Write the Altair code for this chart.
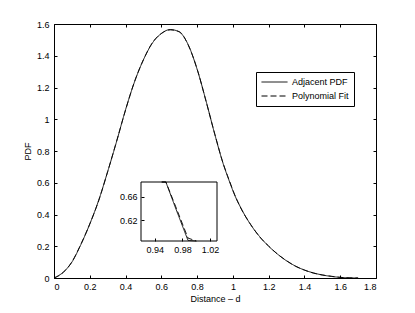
import altair as alt
import pandas as pd

# ---- data ----
distance = [0, 0.05, 0.1, 0.15, 0.2, 0.25, 0.3, 0.35, 0.4, 0.45, 0.5, 0.55, 0.6, 0.65,
            0.7, 0.75, 0.8, 0.85, 0.9, 0.95, 0.956, 0.97, 0.988, 1.0, 1.05, 1.1, 1.15,
            1.2, 1.25, 1.3, 1.35, 1.4, 1.45, 1.5, 1.55, 1.6, 1.65, 1.7]
adjacent_pdf = [0, 0.035, 0.10, 0.21, 0.34, 0.49, 0.67, 0.86, 1.06, 1.235, 1.375, 1.48, 1.54, 1.565,
                1.55, 1.47, 1.315, 1.115, 0.90, 0.705, 0.685, 0.641, 0.586, 0.55, 0.43, 0.335, 0.26,
                0.2, 0.15, 0.108, 0.075, 0.05, 0.032, 0.019, 0.01, 0.004, 0.001, 0.0]
poly_fit = [0, 0.033, 0.102, 0.212, 0.34, 0.488, 0.67, 0.862, 1.058, 1.237, 1.375, 1.482, 1.54, 1.563,
            1.552, 1.468, 1.317, 1.113, 0.902, 0.707, 0.688, 0.644, 0.59, 0.553, 0.428, 0.336, 0.259,
            0.201, 0.15, 0.109, 0.074, 0.05, 0.031, 0.019, 0.011, 0.004, 0.001, 0.0]
series_names = ["Adjacent PDF", "Polynomial Fit"]

x_ticks = [0, 0.2, 0.4, 0.6, 0.8, 1.0, 1.2, 1.4, 1.6, 1.8]
y_ticks = [0, 0.2, 0.4, 0.6, 0.8, 1.0, 1.2, 1.4, 1.6]
x_domain = [0, 1.8]
y_domain = [0, 1.6]

inset_x_domain = [0.92, 1.03]
inset_y_domain = [0.585, 0.685]
inset_x_ticks = [0.94, 0.98, 1.02]
inset_y_ticks = [0.62, 0.66]

# ---- tables ----
df = pd.concat([
    pd.DataFrame({"d": distance, "p": adjacent_pdf, "series": series_names[0]}),
    pd.DataFrame({"d": distance, "p": poly_fit, "series": series_names[1]}),
], ignore_index=True)
box_df = pd.DataFrame({"x0": [inset_x_domain[0]], "x1": [inset_x_domain[1]],
                       "y0": [inset_y_domain[0]], "y1": [inset_y_domain[1]]})

# ---- layout / style ----
W, H = 322, 254
FONT = "Liberation Sans"
FS = 9
TICK = {"expr": "-3"}
inset_x_range = [87, 163]
inset_y_range = [217, 158]

common_axis = dict(domainColor="black", tickColor="black", labelColor="black",
                   titleColor="black", labelFont=FONT, titleFont=FONT,
                   labelFontSize=FS, titleFontSize=FS, titleFontWeight="normal",
                   grid=False, tickSize=TICK, domainWidth=1, tickWidth=1)

dash = alt.StrokeDash("series:N",
                      scale=alt.Scale(domain=series_names, range=[[1, 0], [6, 3]]),
                      legend=alt.Legend(title=None, orient="none", legendX=202, legendY=48,
                                        fillColor="white", strokeColor="black", padding=5,
                                        labelFont=FONT, labelFontSize=FS, labelColor="black",
                                        symbolType="stroke", symbolSize=676,
                                        symbolStrokeWidth=1, symbolStrokeColor="black",
                                        clipHeight=10, rowPadding=4, labelOffset=4))

main_x = alt.Scale(domain=x_domain, nice=False, zero=False)
main_y = alt.Scale(domain=y_domain, nice=False, zero=False)

main_lines = alt.Chart(df).mark_line(color="black", strokeWidth=0.9, interpolate="monotone").encode(
    x=alt.X("d:Q", scale=main_x,
            axis=alt.Axis(orient="bottom", values=x_ticks, format="~g", title="Distance – d",
                          labelPadding=7, titlePadding=3, **common_axis)),
    y=alt.Y("p:Q", scale=main_y,
            axis=alt.Axis(orient="left", values=y_ticks, format="~g", title="PDF",
                          labelPadding=8, titlePadding=4, **common_axis)),
    strokeDash=dash,
    detail="series:N",
)

main_frame = alt.Chart(df).mark_line(opacity=0).encode(
    x=alt.X("d:Q", scale=main_x,
            axis=alt.Axis(orient="top", values=x_ticks, labels=False, title=None, **common_axis)),
    y=alt.Y("p:Q", scale=main_y,
            axis=alt.Axis(orient="right", values=y_ticks, labels=False, title=None, **common_axis)),
)

ins_x = alt.Scale(domain=inset_x_domain, range=inset_x_range, nice=False, zero=False, clamp=True)
ins_y = alt.Scale(domain=inset_y_domain, range=inset_y_range, nice=False, zero=False, clamp=True)

inset_box = alt.Chart(box_df).mark_rect(fillOpacity=0, stroke="black", strokeWidth=1).encode(
    x=alt.X("x0:Q", scale=ins_x,
            axis=alt.Axis(orient="bottom", offset=-(H - inset_y_range[0]), values=inset_x_ticks,
                          format=".2f", title=None, domain=False, labelPadding=7, **common_axis)),
    x2="x1:Q",
    y=alt.Y("y0:Q", scale=ins_y,
            axis=alt.Axis(orient="left", offset=-inset_x_range[0], values=inset_y_ticks,
                          format=".2f", title=None, domain=False, labelPadding=7, **common_axis)),
    y2="y1:Q",
)

inset_lines = alt.Chart(df).transform_filter(
    alt.FieldRangePredicate(field="d", range=inset_x_domain)
).mark_line(color="black", strokeWidth=0.9).encode(
    x=alt.X("d:Q", scale=ins_x, axis=None),
    y=alt.Y("p:Q", scale=ins_y, axis=None),
    strokeDash=dash,
    detail="series:N",
)

chart = alt.layer(main_lines, main_frame, inset_box, inset_lines).resolve_scale(
    x="independent", y="independent"
).properties(
    width=W, height=H,
    autosize=alt.AutoSizeParams(type="none"),
    padding={"left": 46, "top": 16, "right": 30, "bottom": 30},
).configure_view(stroke="transparent")

chart.save("out.html", embed_options={"renderer": "svg", "actions": False})
